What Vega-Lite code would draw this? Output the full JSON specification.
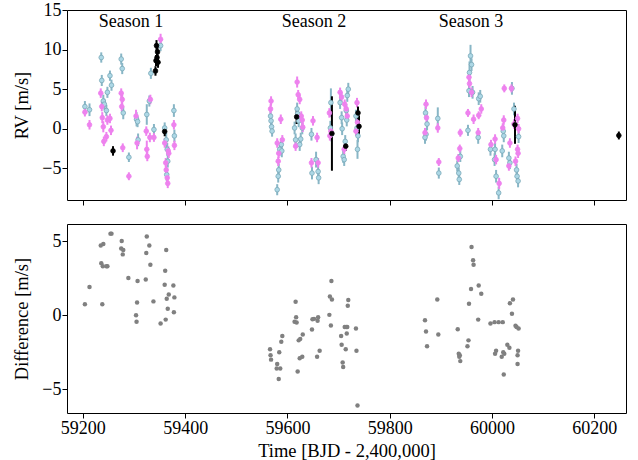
{
  "$schema": "https://vega.github.io/schema/vega-lite/v6.json",
  "padding": {"left": 12, "top": 0, "right": 10, "bottom": 0},
  "background": "white",
  "spacing": 17,
  "config": {
    "font": "Liberation Serif, DejaVu Serif, serif",
    "view": {"stroke": "black", "strokeWidth": 1},
    "axis": {"grid": false, "domain": false, "tickColor": "black", "tickSize": 5, "tickWidth": 1,
      "labelFont": "Liberation Serif, DejaVu Serif, serif", "labelFontSize": 18, "labelColor": "black", "labelPadding": 1,
      "titleFont": "Liberation Serif, DejaVu Serif, serif", "titleFontSize": 18.5, "titleFontWeight": "normal", "titleColor": "black", "titlePadding": 10},
    "axisX": {"titlePadding": 4},
    "text": {"font": "Liberation Serif, DejaVu Serif, serif"}
  },
  "datasets": {
    "rv": [
      {"t":59204,"rv":2.8,"e":0.7,"s":"A"},{"t":59213,"rv":2.4,"e":0.8,"s":"A"},{"t":59236,"rv":9.0,"e":0.65,"s":"A"},{"t":59237,"rv":6.1,"e":0.7,"s":"A"},{"t":59240,"rv":3.5,"e":0.8,"s":"A"},{"t":59242,"rv":3.1,"e":0.7,"s":"A"},{"t":59246,"rv":2.3,"e":0.7,"s":"A"},{"t":59248,"rv":4.6,"e":0.7,"s":"A"},{"t":59253,"rv":6.7,"e":0.65,"s":"A"},{"t":59256,"rv":5.5,"e":0.7,"s":"A"},{"t":59275,"rv":8.8,"e":0.7,"s":"A"},{"t":59277,"rv":7.6,"e":0.7,"s":"A"},{"t":59279,"rv":2.0,"e":0.8,"s":"A"},{"t":59290,"rv":-3.6,"e":0.6,"s":"A"},{"t":59305,"rv":1.2,"e":0.9,"s":"A"},{"t":59308,"rv":-1.4,"e":0.8,"s":"A"},{"t":59307,"rv":0.9,"e":0.7,"s":"A"},{"t":59325,"rv":1.8,"e":1.3,"s":"A"},{"t":59330,"rv":3.5,"e":0.7,"s":"A"},{"t":59333,"rv":7.0,"e":0.7,"s":"A"},{"t":59339,"rv":-0.1,"e":0.7,"s":"A"},{"t":59352,"rv":10.5,"e":0.7,"s":"A"},{"t":59360,"rv":0.1,"e":0.7,"s":"A"},{"t":59363,"rv":-1.4,"e":0.9,"s":"A"},{"t":59365,"rv":-2.6,"e":0.8,"s":"A"},{"t":59366,"rv":-4.1,"e":0.8,"s":"A"},{"t":59364,"rv":-5.8,"e":0.8,"s":"A"},{"t":59378,"rv":2.3,"e":0.8,"s":"A"},{"t":59379,"rv":-0.9,"e":0.8,"s":"A"},
      {"t":59567,"rv":1.6,"e":0.7,"s":"A"},{"t":59568,"rv":1.0,"e":0.7,"s":"A"},{"t":59569,"rv":0.25,"e":0.7,"s":"A"},{"t":59570,"rv":-0.3,"e":0.7,"s":"A"},{"t":59580,"rv":-7.7,"e":0.7,"s":"A"},{"t":59582,"rv":-6.0,"e":0.8,"s":"A"},{"t":59583,"rv":-5.2,"e":0.8,"s":"A"},{"t":59585,"rv":-2.6,"e":0.8,"s":"A"},{"t":59588,"rv":-2.0,"e":0.8,"s":"A"},{"t":59589,"rv":-2.8,"e":0.8,"s":"A"},{"t":59614,"rv":0.1,"e":0.8,"s":"A"},{"t":59616,"rv":-1.4,"e":0.8,"s":"A"},{"t":59619,"rv":2.5,"e":0.8,"s":"A"},{"t":59620,"rv":1.9,"e":0.8,"s":"A"},{"t":59622,"rv":1.0,"e":0.8,"s":"A"},{"t":59624,"rv":-2.0,"e":0.8,"s":"A"},{"t":59626,"rv":-1.3,"e":0.8,"s":"A"},{"t":59629,"rv":0.1,"e":0.8,"s":"A"},{"t":59647,"rv":-0.7,"e":0.8,"s":"A"},{"t":59648,"rv":-5.6,"e":0.8,"s":"A"},{"t":59656,"rv":-3.9,"e":1.0,"s":"A"},{"t":59660,"rv":-5.4,"e":0.8,"s":"A"},{"t":59661,"rv":-6.2,"e":0.8,"s":"A"},{"t":59685,"rv":3.3,"e":1.8,"s":"A"},{"t":59684,"rv":0.1,"e":0.9,"s":"A"},{"t":59686,"rv":-0.7,"e":0.9,"s":"A"},{"t":59703,"rv":3.3,"e":0.8,"s":"A"},{"t":59706,"rv":1.4,"e":0.8,"s":"A"},{"t":59707,"rv":0.0,"e":0.8,"s":"A"},{"t":59709,"rv":-3.5,"e":0.8,"s":"A"},{"t":59711,"rv":-3.9,"e":0.8,"s":"A"},{"t":59713,"rv":-1.6,"e":0.8,"s":"A"},{"t":59717,"rv":4.2,"e":0.8,"s":"A"},{"t":59719,"rv":5.0,"e":0.8,"s":"A"},{"t":59715,"rv":2.3,"e":0.8,"s":"A"},{"t":59716,"rv":1.1,"e":0.8,"s":"A"},{"t":59734,"rv":1.6,"e":0.8,"s":"A"},{"t":59736,"rv":0.1,"e":0.8,"s":"A"},{"t":59737,"rv":-2.6,"e":1.2,"s":"A"},{"t":59738,"rv":-0.9,"e":0.8,"s":"A"},
      {"t":59870,"rv":2.0,"e":0.8,"s":"A"},{"t":59871,"rv":-0.7,"e":0.8,"s":"A"},{"t":59869,"rv":-1.1,"e":0.8,"s":"A"},{"t":59873,"rv":0.6,"e":0.8,"s":"A"},{"t":59894,"rv":1.3,"e":1.4,"s":"A"},{"t":59896,"rv":-5.6,"e":0.7,"s":"A"},{"t":59932,"rv":-4.7,"e":0.7,"s":"A"},{"t":59935,"rv":-5.6,"e":0.7,"s":"A"},{"t":59936,"rv":-6.4,"e":0.7,"s":"A"},{"t":59938,"rv":-3.5,"e":0.7,"s":"A"},{"t":59953,"rv":-0.2,"e":0.7,"s":"A"},{"t":59956,"rv":7.1,"e":1.4,"s":"A"},{"t":59958,"rv":9.2,"e":1.4,"s":"A"},{"t":59960,"rv":8.1,"e":0.8,"s":"A"},{"t":59955,"rv":4.8,"e":0.8,"s":"A"},{"t":59962,"rv":4.6,"e":0.8,"s":"A"},{"t":59974,"rv":3.8,"e":0.8,"s":"A"},{"t":59977,"rv":4.1,"e":0.8,"s":"A"},{"t":59973,"rv":-1.1,"e":0.8,"s":"A"},{"t":59997,"rv":-2.6,"e":0.8,"s":"A"},{"t":60006,"rv":-2.6,"e":0.8,"s":"A"},{"t":60005,"rv":-3.9,"e":0.8,"s":"A"},{"t":60008,"rv":-6.0,"e":0.8,"s":"A"},{"t":60013,"rv":-8.1,"e":0.8,"s":"A"},{"t":60020,"rv":-2.8,"e":0.8,"s":"A"},{"t":60022,"rv":-0.3,"e":0.8,"s":"A"},{"t":60023,"rv":-0.9,"e":0.8,"s":"A"},{"t":60033,"rv":-3.7,"e":0.8,"s":"A"},{"t":60035,"rv":-4.3,"e":0.8,"s":"A"},{"t":60039,"rv":5.1,"e":0.8,"s":"A"},{"t":60043,"rv":2.5,"e":0.8,"s":"A"},{"t":60048,"rv":-5.2,"e":0.8,"s":"A"},{"t":60049,"rv":-6.0,"e":0.8,"s":"A"},{"t":60051,"rv":-6.6,"e":0.8,"s":"A"},{"t":60052,"rv":-1.0,"e":0.8,"s":"A"},
      {"t":59204,"rv":2.1,"e":0.55,"s":"B"},{"t":59213,"rv":0.5,"e":0.6,"s":"B"},{"t":59235,"rv":4.5,"e":0.6,"s":"B"},{"t":59237,"rv":2.8,"e":0.6,"s":"B"},{"t":59238,"rv":1.4,"e":0.7,"s":"B"},{"t":59240,"rv":0.25,"e":0.7,"s":"B"},{"t":59241,"rv":-1.6,"e":0.6,"s":"B"},{"t":59246,"rv":-1.0,"e":0.6,"s":"B"},{"t":59248,"rv":1.1,"e":0.6,"s":"B"},{"t":59253,"rv":1.3,"e":0.6,"s":"B"},{"t":59255,"rv":-0.2,"e":0.6,"s":"B"},{"t":59275,"rv":4.5,"e":0.6,"s":"B"},{"t":59277,"rv":3.7,"e":0.6,"s":"B"},{"t":59276,"rv":2.8,"e":0.6,"s":"B"},{"t":59278,"rv":-2.4,"e":0.55,"s":"B"},{"t":59290,"rv":-6.0,"e":0.5,"s":"B"},{"t":59304,"rv":1.6,"e":0.8,"s":"B"},{"t":59306,"rv":-1.8,"e":0.8,"s":"B"},{"t":59324,"rv":-0.3,"e":0.6,"s":"B"},{"t":59325,"rv":-2.6,"e":1.1,"s":"B"},{"t":59326,"rv":-3.5,"e":0.6,"s":"B"},{"t":59331,"rv":-1.1,"e":0.6,"s":"B"},{"t":59332,"rv":3.7,"e":0.6,"s":"B"},{"t":59339,"rv":-1.1,"e":0.55,"s":"B"},{"t":59352,"rv":11.3,"e":0.7,"s":"B"},{"t":59360,"rv":-1.8,"e":0.6,"s":"B"},{"t":59362,"rv":-4.3,"e":0.6,"s":"B"},{"t":59363,"rv":-5.2,"e":0.6,"s":"B"},{"t":59365,"rv":-6.2,"e":0.6,"s":"B"},{"t":59366,"rv":-6.9,"e":0.6,"s":"B"},{"t":59367,"rv":-2.8,"e":0.6,"s":"B"},{"t":59368,"rv":-3.1,"e":0.6,"s":"B"},{"t":59378,"rv":0.5,"e":0.6,"s":"B"},{"t":59379,"rv":-2.1,"e":0.6,"s":"B"},
      {"t":59568,"rv":3.5,"e":0.6,"s":"B"},{"t":59567,"rv":2.5,"e":0.6,"s":"B"},{"t":59580,"rv":-1.8,"e":0.6,"s":"B"},{"t":59582,"rv":-4.1,"e":0.6,"s":"B"},{"t":59583,"rv":-3.1,"e":0.6,"s":"B"},{"t":59587,"rv":1.2,"e":0.6,"s":"B"},{"t":59590,"rv":-1.4,"e":0.6,"s":"B"},{"t":59616,"rv":-2.2,"e":0.6,"s":"B"},{"t":59619,"rv":5.9,"e":0.7,"s":"B"},{"t":59621,"rv":4.3,"e":0.6,"s":"B"},{"t":59624,"rv":3.7,"e":0.6,"s":"B"},{"t":59627,"rv":1.6,"e":0.6,"s":"B"},{"t":59629,"rv":1.1,"e":0.6,"s":"B"},{"t":59630,"rv":0.2,"e":0.6,"s":"B"},{"t":59647,"rv":-4.3,"e":0.6,"s":"B"},{"t":59650,"rv":1.0,"e":0.6,"s":"B"},{"t":59658,"rv":-1.1,"e":0.6,"s":"B"},{"t":59660,"rv":-4.3,"e":0.6,"s":"B"},{"t":59682,"rv":2.0,"e":0.6,"s":"B"},{"t":59683,"rv":-0.9,"e":0.6,"s":"B"},{"t":59685,"rv":-0.3,"e":0.6,"s":"B"},{"t":59703,"rv":4.6,"e":0.6,"s":"B"},{"t":59706,"rv":4.0,"e":0.6,"s":"B"},{"t":59712,"rv":3.1,"e":0.6,"s":"B"},{"t":59715,"rv":2.5,"e":0.6,"s":"B"},{"t":59717,"rv":1.6,"e":0.6,"s":"B"},{"t":59711,"rv":-2.6,"e":0.6,"s":"B"},{"t":59736,"rv":3.3,"e":0.6,"s":"B"},{"t":59737,"rv":0.8,"e":0.6,"s":"B"},{"t":59734,"rv":-0.3,"e":0.6,"s":"B"},
      {"t":59871,"rv":3.1,"e":0.6,"s":"B"},{"t":59872,"rv":1.4,"e":0.6,"s":"B"},{"t":59869,"rv":-0.5,"e":0.6,"s":"B"},{"t":59894,"rv":0.1,"e":0.6,"s":"B"},{"t":59896,"rv":-4.2,"e":0.5,"s":"B"},{"t":59937,"rv":-2.5,"e":0.5,"s":"B"},{"t":59934,"rv":-3.7,"e":0.5,"s":"B"},{"t":59938,"rv":-0.5,"e":0.5,"s":"B"},{"t":59953,"rv":2.0,"e":0.5,"s":"B"},{"t":59955,"rv":6.5,"e":0.6,"s":"B"},{"t":59956,"rv":5.7,"e":0.6,"s":"B"},{"t":59960,"rv":4.6,"e":0.6,"s":"B"},{"t":59964,"rv":1.2,"e":0.6,"s":"B"},{"t":59974,"rv":1.7,"e":0.5,"s":"B"},{"t":59979,"rv":2.5,"e":0.6,"s":"B"},{"t":59973,"rv":-0.5,"e":0.6,"s":"B"},{"t":59998,"rv":-2.0,"e":0.6,"s":"B"},{"t":60006,"rv":-1.3,"e":0.6,"s":"B"},{"t":60008,"rv":-3.9,"e":0.6,"s":"B"},{"t":60014,"rv":-6.9,"e":0.7,"s":"B"},{"t":60021,"rv":0.1,"e":0.6,"s":"B"},{"t":60023,"rv":1.1,"e":0.6,"s":"B"},{"t":60024,"rv":5.1,"e":0.5,"s":"B"},{"t":60035,"rv":-1.8,"e":0.6,"s":"B"},{"t":60033,"rv":-4.7,"e":0.6,"s":"B"},{"t":60038,"rv":5.1,"e":0.5,"s":"B"},{"t":60043,"rv":0.6,"e":0.6,"s":"B"},{"t":60050,"rv":1.3,"e":0.6,"s":"B"},{"t":60052,"rv":0.0,"e":0.6,"s":"B"},{"t":60050,"rv":-2.6,"e":0.6,"s":"B"},{"t":60051,"rv":-3.1,"e":0.6,"s":"B"},{"t":60046,"rv":-4.1,"e":0.6,"s":"B"},
      {"t":59259,"rv":-2.8,"e":0.6,"s":"C"},{"t":59342,"rv":7.3,"e":0.6,"s":"C"},{"t":59343,"rv":8.6,"e":0.7,"s":"C"},{"t":59345,"rv":9.0,"e":0.7,"s":"C"},{"t":59346,"rv":9.7,"e":0.7,"s":"C"},{"t":59347,"rv":8.4,"e":0.7,"s":"C"},{"t":59344,"rv":10.5,"e":0.7,"s":"C"},{"t":59360,"rv":-0.35,"e":0.6,"s":"C"},
      {"t":59618,"rv":1.5,"e":0.9,"s":"C"},{"t":59687,"rv":-0.6,"e":4.7,"s":"C"},{"t":59714,"rv":-2.2,"e":0.6,"s":"C"},{"t":59738,"rv":2.0,"e":0.8,"s":"C"},{"t":59740,"rv":0.3,"e":1.4,"s":"C"},
      {"t":60045,"rv":0.5,"e":2.4,"s":"C"},{"t":60248,"rv":-0.85,"e":0.5,"s":"C"}
    ],
    "seasons": [
      {"t":59294,"rv":13.5,"label":"Season 1"},
      {"t":59652,"rv":13.5,"label":"Season 2"},
      {"t":59959,"rv":13.5,"label":"Season 3"}
    ],
    "diff": [
      {"t":59204,"d":0.74},{"t":59213,"d":1.9},{"t":59235,"d":4.7},{"t":59240,"d":4.8},{"t":59236,"d":3.5},{"t":59239,"d":3.3},{"t":59246,"d":3.3},{"t":59248,"d":3.3},{"t":59238,"d":0.74},{"t":59254,"d":5.5},{"t":59256,"d":5.5},{"t":59276,"d":5.0},{"t":59275,"d":4.5},{"t":59279,"d":4.4},{"t":59278,"d":4.1},{"t":59289,"d":2.5},{"t":59307,"d":2.3},{"t":59306,"d":0.86},{"t":59304,"d":0.0},{"t":59305,"d":-0.45},{"t":59323,"d":2.4},{"t":59325,"d":5.3},{"t":59330,"d":4.7},{"t":59324,"d":4.2},{"t":59332,"d":3.4},{"t":59338,"d":0.93},{"t":59352,"d":-0.56},{"t":59363,"d":4.4},{"t":59361,"d":3.0},{"t":59360,"d":2.05},{"t":59364,"d":1.1},{"t":59368,"d":1.4},{"t":59366,"d":0.43},{"t":59362,"d":-0.3},{"t":59377,"d":2.0},{"t":59379,"d":1.2},{"t":59378,"d":0.2},
      {"t":59566,"d":-2.3},{"t":59567,"d":-2.7},{"t":59568,"d":-3.0},{"t":59580,"d":-3.3},{"t":59579,"d":-3.6},{"t":59586,"d":-3.6},{"t":59583,"d":-4.3},{"t":59584,"d":-2.5},{"t":59588,"d":-1.8},{"t":59590,"d":-1.4},{"t":59616,"d":0.9},{"t":59617,"d":-0.14},{"t":59614,"d":-0.45},{"t":59618,"d":-0.5},{"t":59622,"d":-1.7},{"t":59625,"d":-1.6},{"t":59630,"d":-1.3},{"t":59620,"d":-3.8},{"t":59624,"d":-2.9},{"t":59629,"d":-2.8},{"t":59648,"d":-0.97},{"t":59649,"d":-0.27},{"t":59652,"d":-0.25},{"t":59659,"d":-0.38},{"t":59660,"d":-0.14},{"t":59658,"d":-2.8},{"t":59663,"d":-2.4},{"t":59686,"d":2.3},{"t":59683,"d":1.26},{"t":59687,"d":1.06},{"t":59682,"d":0.02},{"t":59685,"d":-0.7},{"t":59705,"d":-1.4},{"t":59706,"d":-2.0},{"t":59708,"d":-3.2},{"t":59709,"d":-3.5},{"t":59714,"d":-2.3},{"t":59712,"d":-0.8},{"t":59715,"d":-0.8},{"t":59717,"d":-0.8},{"t":59716,"d":-1.24},{"t":59719,"d":1.03},{"t":59718,"d":0.63},{"t":59734,"d":-0.9},{"t":59735,"d":-2.4},{"t":59737,"d":-6.1},
      {"t":59869,"d":-0.34},{"t":59871,"d":-1.1},{"t":59873,"d":-2.1},{"t":59893,"d":1.06},{"t":59895,"d":-1.3},{"t":59933,"d":-0.95},{"t":59935,"d":-2.6},{"t":59937,"d":-2.7},{"t":59938,"d":-3.1},{"t":59936,"d":-2.8},{"t":59952,"d":-2.1},{"t":59954,"d":-1.7},{"t":59955,"d":0.77},{"t":59959,"d":1.76},{"t":59960,"d":4.6},{"t":59963,"d":3.7},{"t":59964,"d":3.4},{"t":59973,"d":-0.3},{"t":59974,"d":2.0},{"t":59979,"d":1.44},{"t":59997,"d":-0.56},{"t":60005,"d":-0.47},{"t":60013,"d":-0.47},{"t":60021,"d":-0.47},{"t":60006,"d":-2.6},{"t":60008,"d":-2.4},{"t":60019,"d":-2.8},{"t":60022,"d":-2.5},{"t":60024,"d":-2.6},{"t":60023,"d":-4.0},{"t":60030,"d":-2.0},{"t":60034,"d":-2.2},{"t":60035,"d":0.81},{"t":60041,"d":1.06},{"t":60039,"d":0.1},{"t":60046,"d":-0.72},{"t":60048,"d":-0.8},{"t":60052,"d":-0.9},{"t":60050,"d":-2.7},{"t":60051,"d":-2.4},{"t":60050,"d":-3.3}
    ]
  },
  "vconcat": [
    {
      "width": 559, "height": 190,
      "layer": [
        {
          "data": {"name": "rv"},
          "mark": {"type": "errorbar", "thickness": 2},
          "encoding": {
            "x": {"field": "t", "type": "quantitative", "scale": {"domain": [59169, 60262], "nice": false, "zero": false},
              "axis": {"values": [59200, 59400, 59600, 59800, 60000, 60200], "labels": false, "title": null}},
            "y": {"field": "rv", "type": "quantitative", "scale": {"domain": [-9, 15], "nice": false, "zero": false},
              "axis": {"values": [-5, 0, 5, 10, 15], "title": "RV [m/s]"}},
            "yError": {"field": "e"},
            "color": {"field": "s", "type": "nominal", "scale": {"domain": ["A", "B", "C"], "range": ["#88b6c6", "#ee82ee", "#000000"]}, "legend": null}
          }
        },
        {
          "data": {"name": "rv"},
          "mark": {"type": "point", "filled": true, "size": 22, "strokeWidth": 0.8, "opacity": 1},
          "encoding": {
            "x": {"field": "t", "type": "quantitative"},
            "y": {"field": "rv", "type": "quantitative"},
            "fill": {"field": "s", "type": "nominal", "scale": {"domain": ["A", "B", "C"], "range": ["#add8e6", "#ee82ee", "#000000"]}, "legend": null},
            "stroke": {"field": "s", "type": "nominal", "scale": {"domain": ["A", "B", "C"], "range": ["#7aa8b8", "#ee82ee", "#000000"]}, "legend": null}
          }
        },
        {
          "data": {"name": "seasons"},
          "mark": {"type": "text", "fontSize": 18, "color": "black", "baseline": "middle", "align": "center", "font": "Liberation Serif, DejaVu Serif, serif"},
          "encoding": {
            "x": {"field": "t", "type": "quantitative"},
            "y": {"field": "rv", "type": "quantitative"},
            "text": {"field": "label"}
          }
        }
      ]
    },
    {
      "width": 559, "height": 189,
      "data": {"name": "diff"},
      "mark": {"type": "circle", "size": 20, "color": "#808080", "opacity": 1},
      "encoding": {
        "x": {"field": "t", "type": "quantitative", "scale": {"domain": [59169, 60262], "nice": false, "zero": false},
          "axis": {"values": [59200, 59400, 59600, 59800, 60000, 60200], "format": "d", "title": "Time [BJD - 2,400,000]"}},
        "y": {"field": "d", "type": "quantitative", "scale": {"domain": [-6.6, 6.15], "nice": false, "zero": false},
          "axis": {"values": [-5, 0, 5], "title": "Difference [m/s]"}}
      }
    }
  ]
}
